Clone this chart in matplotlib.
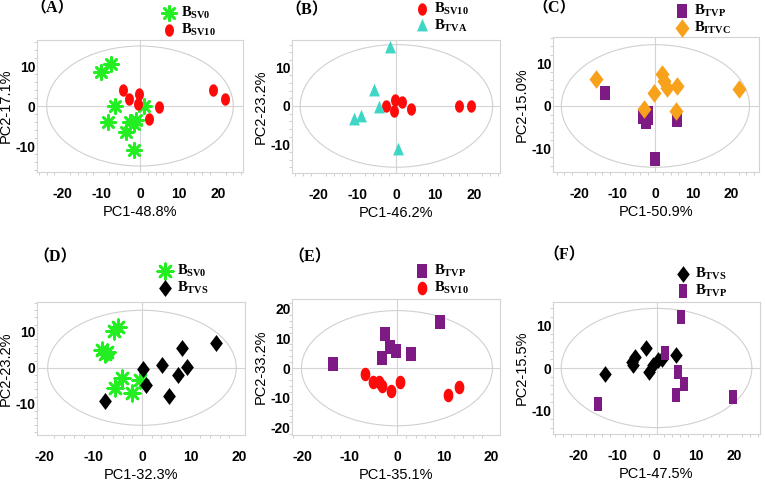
import numpy as np
import matplotlib
matplotlib.use("Agg")
import matplotlib.pyplot as plt
from matplotlib.path import Path
from matplotlib.patches import Ellipse

plt.rcParams['mathtext.fontset'] = 'custom'
plt.rcParams['mathtext.bf'] = 'Liberation Serif:bold'
plt.rcParams['mathtext.rm'] = 'Liberation Serif'

# ---- data (PC1, PC2 scores) ----
a_sv0_x = [-10, -7.5, -6.5, -8.3, -3.5, -2.5, -1, -1.5, 1, -1.5]
a_sv0_y = [8.5, 10.5, 0, -4, -6.5, -4, -3.5, -4.5, 0, -11]
a_sv10_x = [-4.3, -2.9, -0.3, -0.6, 2.2, 4.8, 18.8, 21.8]
a_sv10_y = [3.9, 1.7, 3.1, 0.6, -3.3, -0.2, 3.9, 1.7]

b_sv10_x = [-2.6, -0.3, -0.5, 1.4, 3.8, 16.1, 19.1]
b_sv10_y = [0, 1.6, -1.2, 1, -0.8, 0, 0]
b_tva_x = [-1.6, -5.7, -4.4, -9.1, -11, 0.5]
b_tva_y = [15, 4, -0.5, -2.8, -3.6, -11.5]

c_tvp_x = [-13.2, -3.2, -1.9, -2.4, -2.0, 5.8, 0]
c_tvp_y = [3, -2.5, -1.6, -3.8, -2.8, -3.3, -12.4]
c_itvc_x = [-15.7, -3.1, -0.4, 1.8, 2.2, 3.1, 5.8, 5.5, 22]
c_itvc_y = [6.3, -0.6, 3.1, 7.4, 5.8, 4.3, 4.8, -1.1, 3.9]

d_sv0_x = [-8.2, -7.2, -5.8, -5.0, -4.1, -5.5, -2.0, -0.5, -7.6]
d_sv0_y = [4.9, 4.4, 10.2, 11.4, -2.8, -5.7, -7.1, -3.4, 3.8]
d_tvs_x = [-7.7, 0.2, 0.9, 4.2, 5.5, 7.4, 8.2, 9.2, 15.2]
d_tvs_y = [-9.3, -0.4, -4.8, 0.9, -7.8, -2.0, 5.6, 0.3, 6.8]

e_tvp_x = [-13.5, -2.5, -1.4, -0.2, -3.2, 3.0, 9.2]
e_tvp_y = [1.4, 11.4, 7.0, 5.9, 3.4, 4.8, 15.7]
e_sv10_x = [-6.8, -5.1, -3.9, -3.2, -1.2, 0.6, 10.7, 13.2]
e_sv10_y = [-2.0, -4.8, -4.8, -5.9, -7.7, -4.5, -9.1, -6.4]

f_tvs_x = [-13.1, -6.4, -5.6, -6.0, -2.6, -1.9, -0.9, 0.4, 1.3, 5.0]
f_tvs_y = [-1.3, 1.4, 2.6, 0.6, 4.7, -0.9, 0.6, 1.8, 2.2, 3.1]
f_tvp_x = [-15, 2.1, 6.2, 5.4, 7.0, 5.1, 19.7]
f_tvp_y = [-8.5, 3.5, 12, -0.9, -3.7, -6.4, -6.8]

x_labels = ['PC1-48.8%', 'PC1-46.2%', 'PC1-50.9%', 'PC1-32.3%', 'PC1-35.1%', 'PC1-47.5%']
y_labels = ['PC2-17.1%', 'PC2-23.2%', 'PC2-15.0%', 'PC2-23.2%', 'PC2-33.2%', 'PC2-15.5%']
panel_names = ['A', 'B', 'C', 'D', 'E', 'F']


def shape(kind, ratio):
    # custom marker paths, ratio = width / height
    if kind == 'ellipse':
        t = np.linspace(0, 2 * np.pi, 40)
        v = np.column_stack([ratio * np.cos(t), np.sin(t)])
    elif kind == 'rect':
        v = np.array([[-ratio, -1], [ratio, -1], [ratio, 1], [-ratio, 1], [-ratio, -1]])
    elif kind == 'diamond':
        v = np.array([[0, -1], [ratio, 0], [0, 1], [-ratio, 0], [0, -1]])
    else:
        v = np.array([[-ratio, -0.7], [ratio, -0.7], [0, 1.1], [-ratio, -0.7]])
    return Path(v, closed=True)


GREEN = '#22ee22'
RED = '#ff0a0a'
PURPLE = '#7d1a83'
ORANGE = '#f8a21c'
TURQ = '#3fd6c6'

star = (8, 2, 0)
red_m = shape('ellipse', 0.72)
sq_m = shape('rect', 0.65)
dia_m = shape('diamond', 0.75)
tri_m = shape('tri', 0.77)

fig = plt.figure(figsize=(7.65, 4.84), dpi=100)
W, H = 765, 484

# axes boxes in pixels: x0, x1, y0(top), y1(bottom)
boxes = [(37, 243, 40, 172), (292, 500, 40, 173), (553, 759, 37, 172),
         (37, 245, 302, 435), (292, 500, 299, 435), (553, 760, 302, 434)]
xlims = [(-26.5, 26.5), (-26.8, 26.6), (-27, 27.3), (-21.6, 21.2), (-22.2, 21.8), (-26.5, 26.5)]
ylims = [(-16.5, 16.5), (-17.5, 17.2), (-15.5, 16.2), (-18.7, 18.3), (-22.5, 23.3), (-15.5, 15.5)]
ells = [(24, 15), (24.7, 16), (24.8, 14.4), (19.4, 16), (20.2, 19.4), (24.4, 14)]
yticks = [[-10, 0, 10]] * 4 + [[-20, -10, 0, 10, 20]] + [[-10, 0, 10]]

series = [
    [(a_sv0_x, a_sv0_y, GREEN, star, 105, r'$\mathbf{B_{SV0}}$'),
     (a_sv10_x, a_sv10_y, RED, red_m, 80, r'$\mathbf{B_{SV10}}$')],
    [(b_sv10_x, b_sv10_y, RED, red_m, 80, r'$\mathbf{B_{SV10}}$'),
     (b_tva_x, b_tva_y, TURQ, tri_m, 125, r'$\mathbf{B_{TVA}}$')],
    [(c_tvp_x, c_tvp_y, PURPLE, sq_m, 100, r'$\mathbf{B_{TVP}}$'),
     (c_itvc_x, c_itvc_y, ORANGE, dia_m, 180, r'$\mathbf{B_{ITVC}}$')],
    [(d_sv0_x, d_sv0_y, GREEN, star, 125, r'$\mathbf{B_{SV0}}$'),
     (d_tvs_x, d_tvs_y, 'black', dia_m, 150, r'$\mathbf{B_{TVS}}$')],
    [(e_tvp_x, e_tvp_y, PURPLE, sq_m, 100, r'$\mathbf{B_{TVP}}$'),
     (e_sv10_x, e_sv10_y, RED, red_m, 95, r'$\mathbf{B_{SV10}}$')],
    [(f_tvs_x, f_tvs_y, 'black', dia_m, 145, r'$\mathbf{B_{TVS}}$'),
     (f_tvp_x, f_tvp_y, PURPLE, sq_m, 95, r'$\mathbf{B_{TVP}}$')],
]
# legend marker position (px) and panel-label position (px)
leg_pos = [(169, 14), (422, 10), (682, 12), (165, 272), (422, 272), (683, 275)]
tag_pos = [(30, 8), (285, 10), (532, 8), (33, 257), (288, 257), (543, 255)]

tick_font = dict(family=['Liberation Sans Narrow', 'Liberation Sans'], weight='bold', size=10)

for i in range(6):
    x0, x1, y0, y1 = boxes[i]
    ax = fig.add_axes([x0 / W, 1 - y1 / H, (x1 - x0) / W, (y1 - y0) / H])
    ax.set_xlim(*xlims[i])
    ax.set_ylim(*ylims[i])
    for s in ax.spines.values():
        s.set_color('#d4d4d4')
        s.set_linewidth(0.8)
    ax.axhline(0, color='#d4d4d4', lw=0.8, zorder=0)
    ax.axvline(0, color='#d4d4d4', lw=0.8, zorder=0)
    ew, eh = ells[i]
    ax.add_patch(Ellipse((0, 0), 2 * ew, 2 * eh, fill=False, ec='#d0d0d0', lw=0.8, zorder=0))

    handles = []
    for xs, ys, col, mk, sz, lab in series[i]:
        if mk == star:
            h = ax.scatter(xs, ys, s=sz, marker=mk, color=col, linewidths=1.9, label=lab, zorder=3)
        else:
            h = ax.scatter(xs, ys, s=sz, marker=mk, color=col, linewidths=0, label=lab, zorder=3)
        handles.append(h)

    ax.set_xticks([-20, -10, 0, 10, 20])
    ax.set_yticks(yticks[i])
    ax.set_xticklabels([str(v) for v in [-20, -10, 0, 10, 20]], **tick_font)
    ax.set_yticklabels([str(v) for v in yticks[i]], **tick_font)
    ax.tick_params(axis='x', length=0, pad=11)
    ax.tick_params(axis='y', length=0, pad=1)
    ax.minorticks_on()
    ax.tick_params(which='minor', direction='out', length=2, color='#c8c8c8', width=0.6)
    ax.set_xlabel(x_labels[i], fontsize=10.5, family='Liberation Sans', labelpad=3)
    ax.set_ylabel(y_labels[i], fontsize=10.5, family='Liberation Sans', labelpad=2)

    lx, ly = leg_pos[i]
    ax.legend(handles=handles, loc='upper left', bbox_to_anchor=((lx - 7) / W, 1 - (ly - 9) / H),
              bbox_transform=fig.transFigure, frameon=False, borderpad=0, handlelength=1.0,
              handletextpad=0.3, labelspacing=0.05, fontsize=10.5, borderaxespad=0)

    tx, ty = tag_pos[i]
    fig.text(tx / W, 1 - ty / H, '（' + panel_names[i] + '）', fontsize=11.5, weight='bold',
             family=['Liberation Serif', 'Noto Sans CJK SC'], ha='left', va='center')

fig.savefig('out.png', dpi=100)
